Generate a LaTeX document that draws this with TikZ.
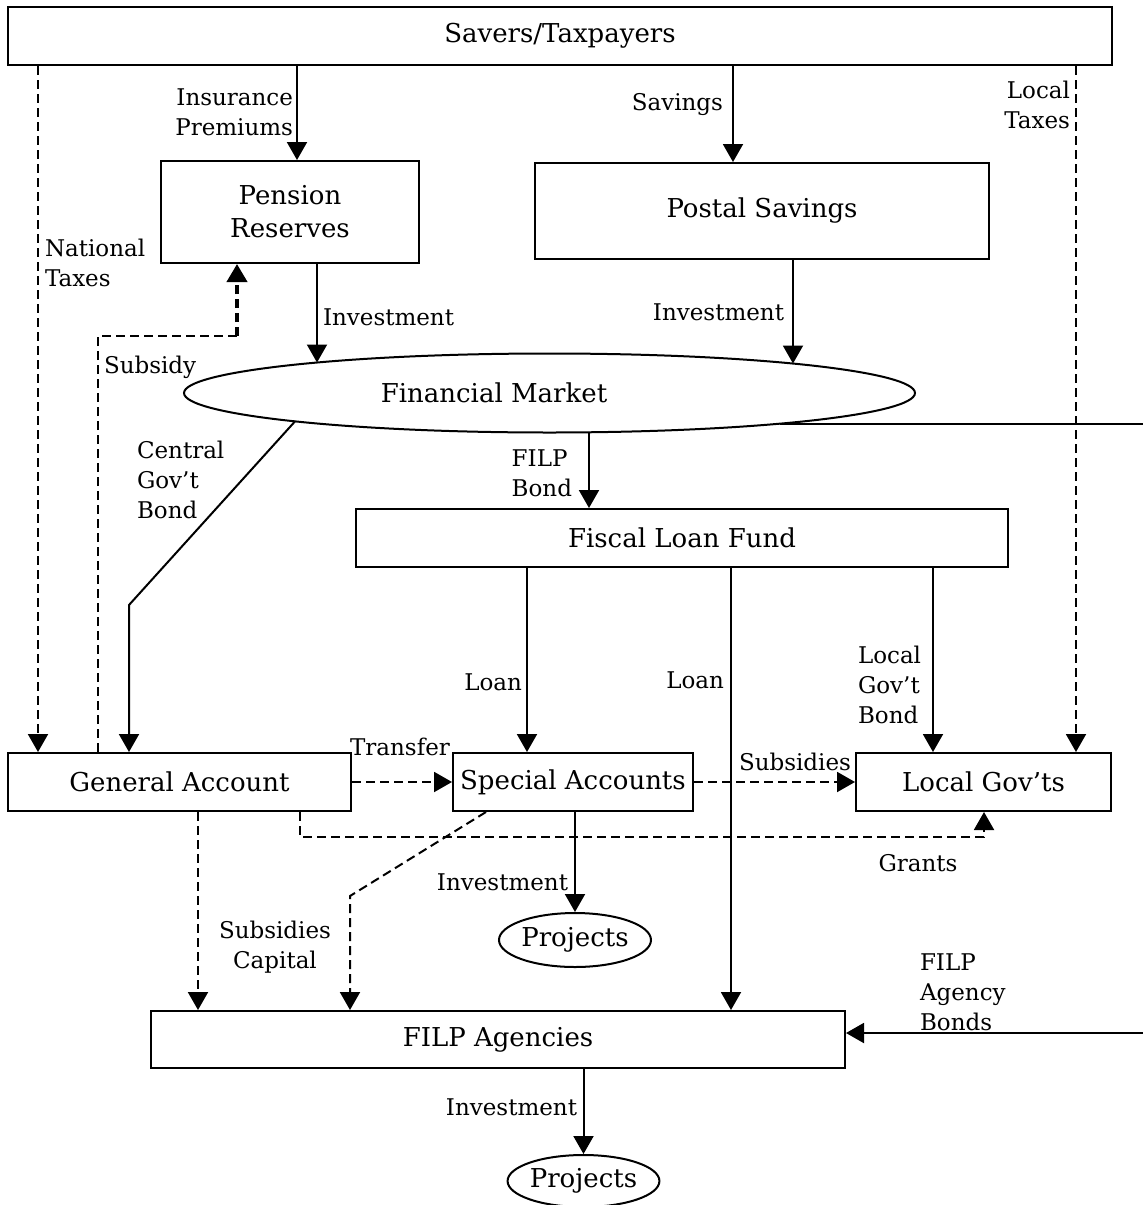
\documentclass[tikz,border=0pt]{standalone}
\usepackage{fontspec}
\setmainfont{DejaVu Serif}
\usetikzlibrary{arrows.meta,shapes.geometric}

\begin{document}
\begin{tikzpicture}[x=0.5pt,y=-0.5pt,line width=1pt,
  txt/.style={inner sep=0pt,font=\rmfamily\fontsize{13}{16.5}\selectfont},
  box/.style={txt,draw,rectangle},
  oval/.style={txt,draw,ellipse},
  lbl/.style={inner sep=0pt,font=\rmfamily\fontsize{11.5}{15}\selectfont},
  arr/.style={-{Triangle[width=10pt,length=9pt]}},
  dline/.style={dash pattern=on 4.5pt off 2.5pt},
  darr/.style={arr,dline}]
  \useasboundingbox (0,0) rectangle (1143,1205);
  \coordinate (edge) at (1143,0);

  \node[box,minimum width=552pt,minimum height=29pt] (savers) at (560,36) {Savers/Taxpayers};
  \node[box,minimum width=129pt,minimum height=51pt,align=center] (pension) at (290,212) {Pension\\Reserves};
  \node[box,minimum width=227pt,minimum height=48pt] (postal) at (762,211) {Postal Savings};
  \node[oval,minimum width=365.5pt,minimum height=39.5pt] (fm) at (549.5,393) {};
  \node[txt] (fmtext) at (494,393) {Financial Market};
  \node[box,minimum width=326pt,minimum height=29pt] (flf) at (682,538) {Fiscal Loan Fund};
  \node[box,minimum width=171.5pt,minimum height=29pt] (ga) at (179.5,782) {General Account};
  \node[box,minimum width=120pt,minimum height=29pt] (sa) at (573,782) {Special Accounts};
  \node[box,minimum width=127.5pt,minimum height=29pt] (lg) at (983.5,782) {Local Gov'ts};
  \node[oval,minimum width=76pt,minimum height=27pt] (proj1) at (575,940) {Projects};
  \node[box,minimum width=347pt,minimum height=28.5pt] (agencies) at (498,1039.5) {FILP Agencies};
  \node[oval,minimum width=75.5pt,minimum height=26pt] (proj2) at (583.5,1181) {Projects};

  \coordinate (fmA) at (317,362.5);
  \coordinate (fmB) at (793,363.5);
  \coordinate (fmC) at (589,432.3);
  \coordinate (fmD) at (295,421.4);
  \coordinate (fmE) at (780,423.7);
  \coordinate (sub) at (237,336);
  \coordinate (cgb) at (129,605);
  \coordinate (grt) at (984,837);
  \coordinate (cap) at (350,896);
  \coordinate (fab) at (1143,1033);

  \draw[arr] (297,0 |- savers.south) -- (297,0 |- pension.north);
  \draw[arr] (733,0 |- savers.south) -- (733,0 |- postal.north);
  \draw[darr] (1076,0 |- savers.south) -- (1076,0 |- lg.north);
  \draw[darr] (38,0 |- savers.south) -- (38,0 |- ga.north);
  \draw[arr] (pension.south -| fmA) -- (fmA);
  \draw[arr] (postal.south -| fmB) -- (fmB);
  \draw[dline] (98,0 |- ga.north) |- (sub);
  \draw[darr,line width=2pt] (sub) -- (sub |- pension.south);
  \draw[arr] (fmD) -- (cgb) -- (cgb |- ga.north);
  \draw[arr] (fmC) -- (fmC |- flf.north);
  \draw (fmE) -- (fmE -| edge);
  \draw[arr] (527,0 |- flf.south) -- (527,0 |- sa.north);
  \draw[arr] (731,0 |- flf.south) -- (731,0 |- agencies.north);
  \draw[arr] (933,0 |- flf.south) -- (933,0 |- lg.north);
  \draw[darr] (ga.east) -- (sa.west);
  \draw[darr] (sa.east) -- (lg.west);
  \draw[darr] (300,0 |- ga.south) |- (grt) -- (grt |- lg.south);
  \draw[arr] (sa.south -| proj1.north) -- (proj1.north);
  \draw[darr] (198,0 |- ga.south) -- (198,0 |- agencies.north);
  \draw[darr] (486,0 |- sa.south) -- (cap) -- (cap |- agencies.north);
  \draw[arr] (fab) -- (fab -| agencies.east);
  \draw[arr] (agencies.south -| proj2.north) -- (proj2.north);

  \node[lbl,anchor=east,align=right] (lins) at (294,112) {Insurance\\Premiums};
  \node[lbl,anchor=east] (lsav) at (724,105) {Savings};
  \node[lbl,anchor=east,align=right] (lloc) at (1071,105) {Local\\Taxes};
  \node[lbl,anchor=west,align=left] (lnat) at (44,263) {National\\Taxes};
  \node[lbl,anchor=west] (linv1) at (322,317) {Investment};
  \node[lbl,anchor=east] (linv2) at (785,312) {Investment};
  \node[lbl,anchor=west] (lsub) at (103,367) {Subsidy};
  \node[lbl,anchor=west,align=left] (lcgb) at (136,480) {Central\\Gov't\\Bond};
  \node[lbl,anchor=east,align=left] (lfb) at (573,473) {FILP\\Bond};
  \node[lbl,anchor=east] (lloan1) at (523,682) {Loan};
  \node[lbl,anchor=east] (lloan2) at (725,680) {Loan};
  \node[lbl,anchor=west,align=left] (llgb) at (857,685) {Local\\Gov't\\Bond};
  \node[lbl] (ltr) at (400,747) {Transfer};
  \node[lbl] (lsubs) at (795,762) {Subsidies};
  \node[lbl] (lgr) at (918,863) {Grants};
  \node[lbl,anchor=east] (linv3) at (569,882) {Investment};
  \node[lbl,align=center] (lcap) at (275,947) {Subsidies\\Capital};
  \node[lbl,anchor=west,align=left] (lfab) at (919,992) {FILP\\Agency\\Bonds};
  \node[lbl,anchor=east] (linv4) at (578,1107) {Investment};
\end{tikzpicture}
\end{document}
